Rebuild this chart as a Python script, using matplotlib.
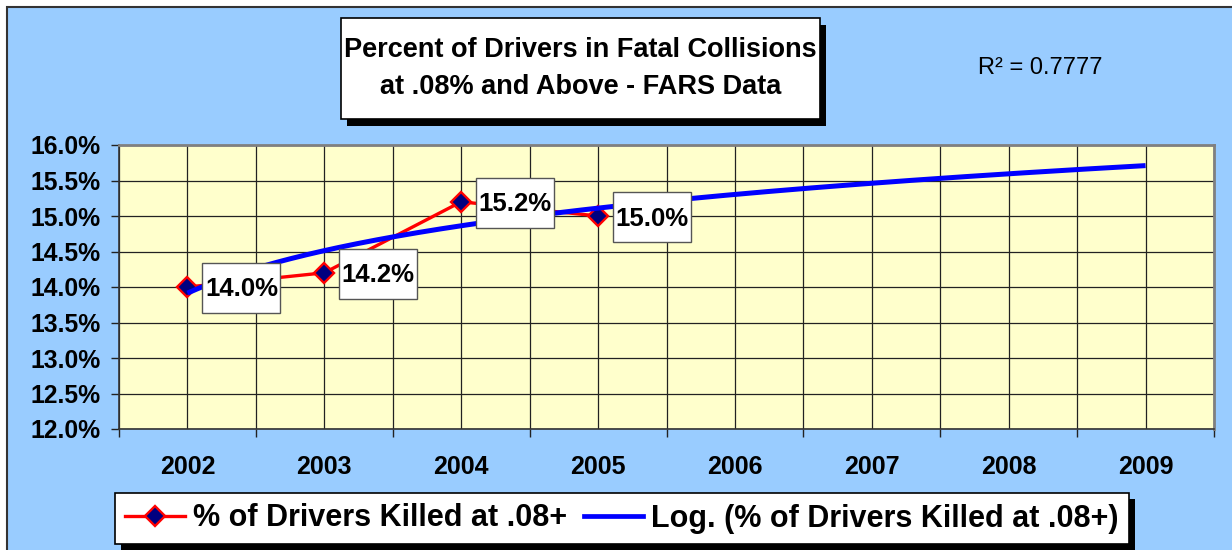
import numpy as np
import matplotlib
matplotlib.use("Agg")
import matplotlib.pyplot as plt
from matplotlib.patches import Rectangle
from matplotlib.lines import Line2D
from matplotlib.transforms import IdentityTransform
from matplotlib.ticker import FuncFormatter, FixedLocator

plt.rcParams['font.family'] = ['Liberation Sans', 'DejaVu Sans']

# ---- data ----
years = ['2002', '2003', '2004', '2005', '2006', '2007', '2008', '2009']
data_years = ['2002', '2003', '2004', '2005']
pct_killed = [14.0, 14.2, 15.2, 15.0]
y_ticks = [12.0, 12.5, 13.0, 13.5, 14.0, 14.5, 15.0, 15.5, 16.0]
title_text = "Percent of Drivers in Fatal Collisions\nat .08% and Above - FARS Data"
series_label = "% of Drivers Killed at .08+"
trend_label = "Log. (% of Drivers Killed at .08+)"

BLUE_BG = '#99CCFF'
PLOT_BG = '#FFFFCC'

W, H, DPI = 1232, 550, 100
fig = plt.figure(figsize=(W / DPI, H / DPI), dpi=DPI, facecolor='white')

# outer chart area
fig.patches.append(Rectangle((7, -20), W + 20, H - 7 + 20, transform=IdentityTransform(),
                             facecolor=BLUE_BG, edgecolor='#333333', lw=1.5, zorder=-5))

ax = fig.add_axes([119 / W, 1 - 429 / H, 1095 / W, 284 / H])
ax.set_facecolor(PLOT_BG)

xpos = np.arange(len(years))
data_x = np.array([years.index(y) for y in data_years])
vals = np.array(pct_killed)

# logarithmic trendline (Excel style: y = a ln(x) + b, x = 1..n)
a, b = np.polyfit(np.log(data_x + 1), vals, 1)
pred = a * np.log(data_x + 1) + b
r2 = 1 - np.sum((vals - pred) ** 2) / np.sum((vals - vals.mean()) ** 2)
tx = np.linspace(1, len(years), 300)
ty = a * np.log(tx) + b

ax.plot(data_x, vals, color='red', lw=2.4, marker='D', ms=10.5, mfc='#000080',
        mec='red', mew=1.7, zorder=3, clip_on=False)
ax.plot(tx - 1, ty, color='#0000FF', lw=3.6, zorder=4, solid_capstyle='butt')

ax.set_xlim(-0.5, len(years) - 0.5)
ax.set_ylim(y_ticks[0], y_ticks[-1])
ax.set_xticks(xpos)
ax.set_xticklabels(years)
ax.xaxis.set_minor_locator(FixedLocator(np.arange(-0.5, len(years), 1.0)))
ax.set_yticks(y_ticks)
ax.yaxis.set_major_formatter(FuncFormatter(lambda v, p: f"{v:.1f}%"))

ax.tick_params(axis='x', which='major', length=0, pad=19, labelsize=18, colors='black')
ax.tick_params(axis='x', which='minor', length=6, width=1, direction='out', color='#222222')
ax.tick_params(axis='y', which='major', length=6, width=1, direction='out', pad=7,
               labelsize=17.8, color='#222222')
for lab in ax.get_xticklabels() + ax.get_yticklabels():
    lab.set_fontweight('bold')

ax.grid(True, which='both', axis='x', color='#222222', lw=0.9, zorder=1)
ax.grid(True, which='major', axis='y', color='#222222', lw=0.9, zorder=1)
ax.set_axisbelow(True)

for s in ['top', 'right']:
    ax.spines[s].set_color('#808080')
    ax.spines[s].set_linewidth(2)
for s in ['left', 'bottom']:
    ax.spines[s].set_color('#333333')
    ax.spines[s].set_linewidth(1.2)

# data labels
labels = []
for xv, yv in zip(data_x, vals):
    t = ax.annotate(f"{yv:.1f}%", (xv, yv), xytext=(54 * 72 / DPI, 0),
                    textcoords='offset points', ha='center', va='center_baseline',
                    fontsize=18.5, fontweight='bold', zorder=7)
    labels.append(t)

# title
title = fig.text(580.5 / W, 1 - 68.5 / H, title_text, ha='center', va='center',
                 fontsize=19.5, fontweight='bold', linespacing=1.55, zorder=3)

# R^2
fig.text(1040 / W, 1 - 68 / H, f"R\u00b2 = {r2:.4f}", ha='center', va='center',
         fontsize=17, zorder=3)

# legend
h1 = Line2D([], [], color='red', lw=2.4, marker='D', ms=10.5, mfc='#000080', mec='red', mew=1.7)
h2 = Line2D([], [], color='#0000FF', lw=3.4)
leg = fig.legend([h1, h2], [series_label, trend_label], loc='center',
                 bbox_to_anchor=(622 / W, 1 - 518.5 / H), ncol=2, frameon=True,
                 fancybox=False, framealpha=1, edgecolor='black',
                 prop={'size': 22, 'weight': 'bold'}, handlelength=1.95,
                 handletextpad=0.26, columnspacing=0.56, borderpad=0.33, borderaxespad=0)
leg.get_frame().set_linewidth(1.2)
leg.set_zorder(6)

fig.canvas.draw()
r = fig.canvas.get_renderer()

# legend shadow
lb = leg.get_frame().get_window_extent(r)
fig.patches.append(Rectangle((lb.x0 + 6, lb.y0 - 6), lb.width, lb.height,
                             transform=IdentityTransform(), facecolor='black',
                             edgecolor='none', zorder=5))

# title box and shadow
tb = title.get_window_extent(r)
cx, cy = (tb.x0 + tb.x1) / 2, (tb.y0 + tb.y1) / 2
bw, bh = 479, 101
fig.patches.append(Rectangle((cx - bw / 2 + 6, cy - bh / 2 - 7), bw, bh,
                             transform=IdentityTransform(), facecolor='black',
                             edgecolor='none', zorder=1))
fig.patches.append(Rectangle((cx - bw / 2, cy - bh / 2), bw, bh,
                             transform=IdentityTransform(), facecolor='white',
                             edgecolor='black', lw=1.2, zorder=2))

# data label boxes
for t in labels:
    e = t.get_window_extent(r)
    cx = (e.x0 + e.x1) / 2
    disp = ax.transData.transform(t.xy)
    cy = disp[1] - 1
    rect = Rectangle((cx - 39, cy - 25), 78, 50, transform=IdentityTransform(),
                     facecolor='white', edgecolor='#555555', lw=1, zorder=6, clip_on=False)
    ax.add_artist(rect)

fig.savefig('out.png', dpi=DPI, facecolor=fig.get_facecolor())
